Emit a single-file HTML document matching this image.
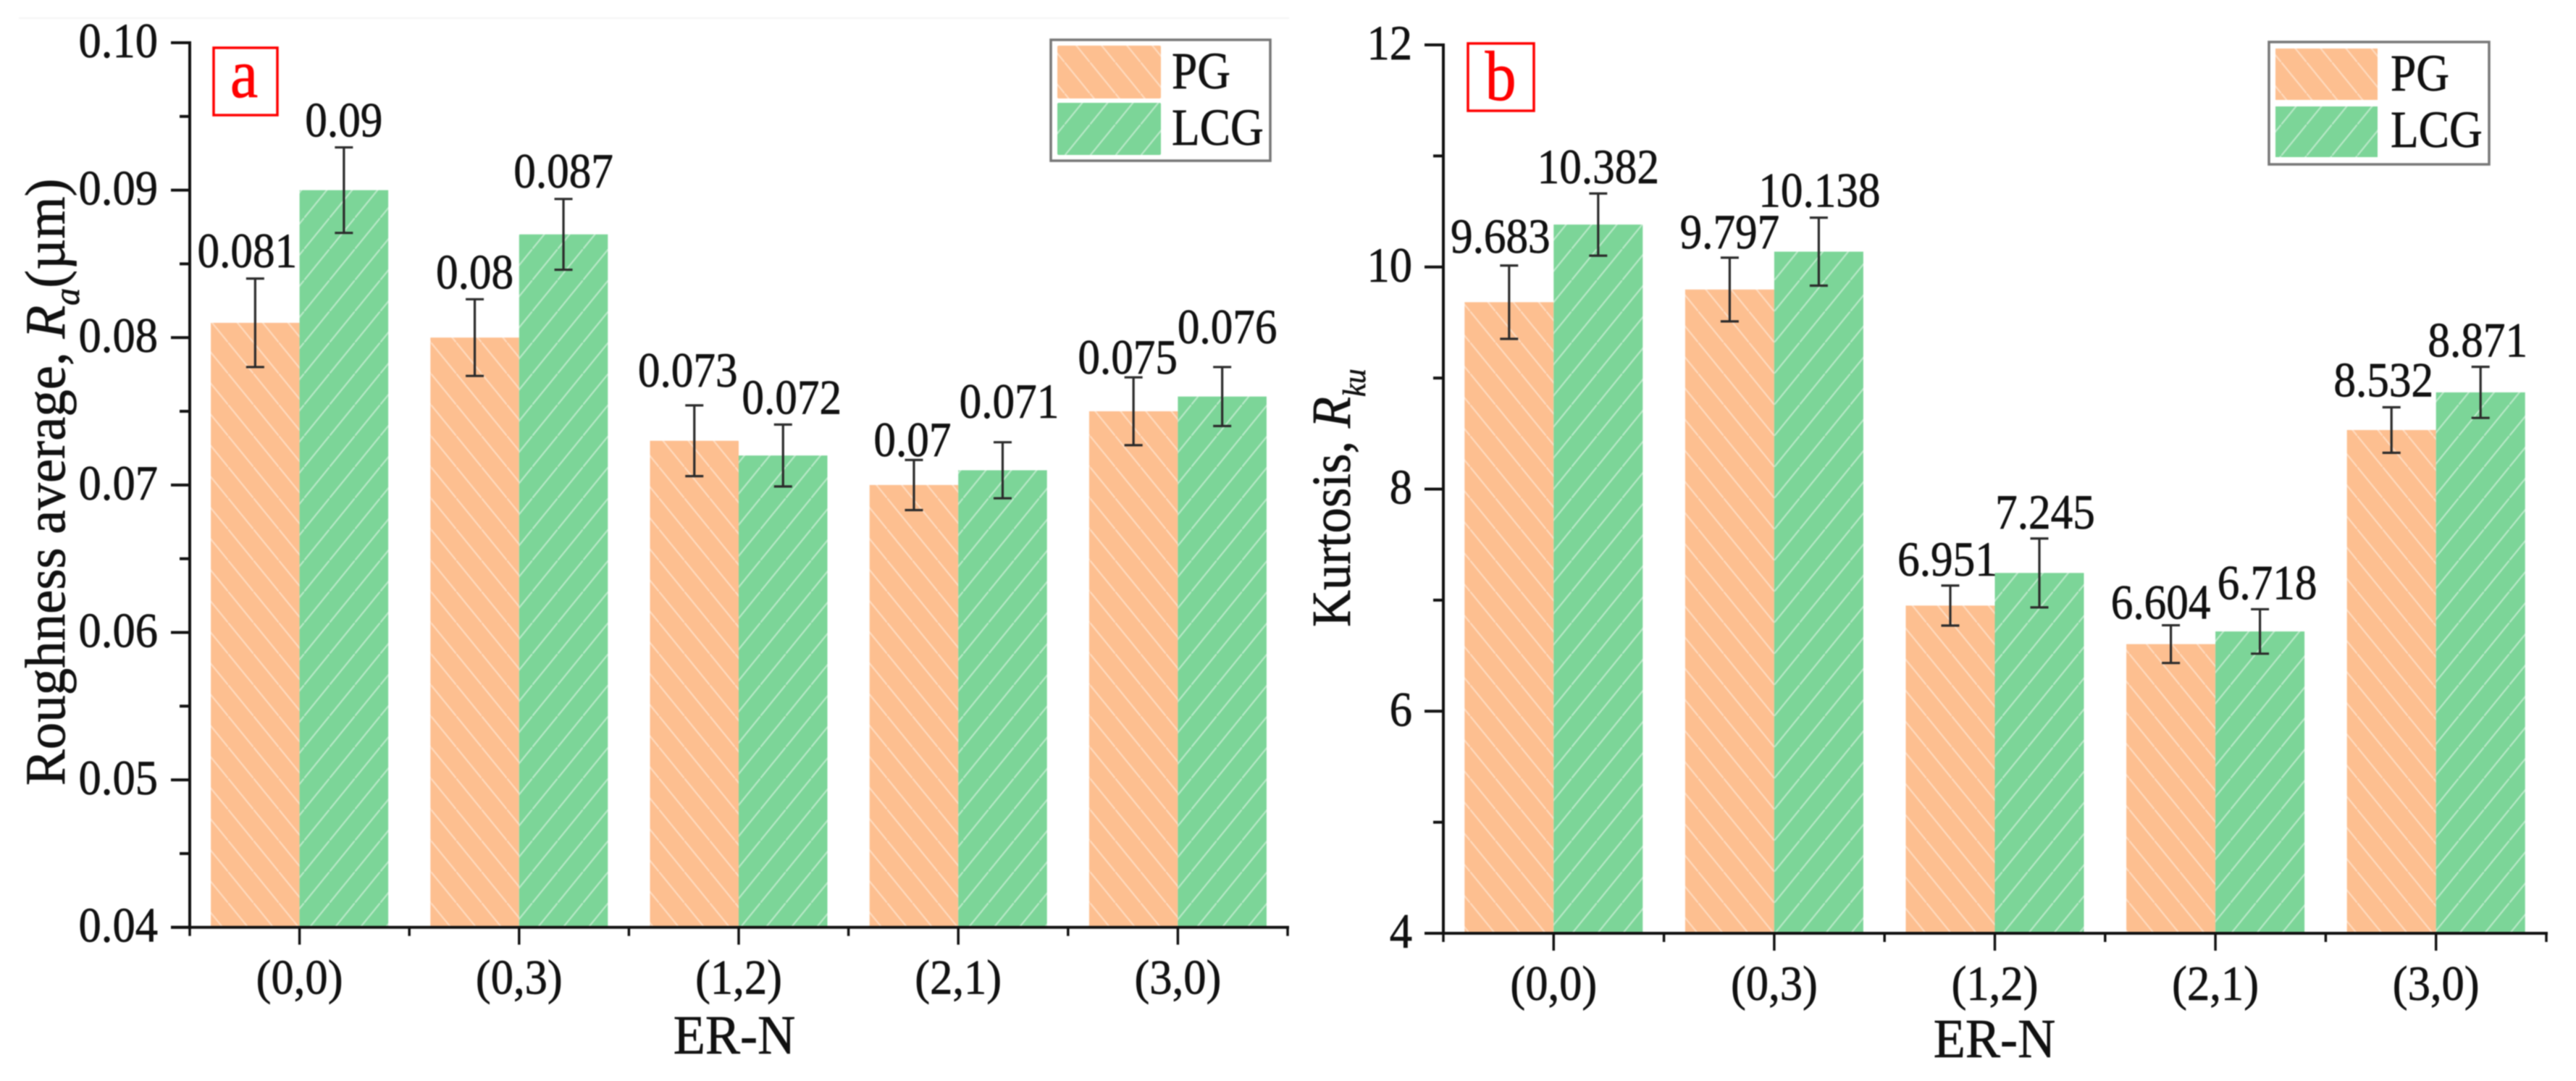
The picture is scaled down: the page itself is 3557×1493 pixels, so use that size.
<!DOCTYPE html>
<html lang="en">
<head>
<meta charset="utf-8">
<title>Roughness average and kurtosis by ER-N</title>
<style>
html,body{margin:0;padding:0;background:#fff;width:3557px;height:1493px;overflow:hidden}
svg{display:block;filter:blur(0.9px)}
text{font-family:"Liberation Serif","Times New Roman",serif;fill:#111;stroke:#111;stroke-width:.7px}
</style>
</head>
<body>
<svg id="figure" xmlns="http://www.w3.org/2000/svg" width="3557" height="1493" viewBox="0 0 3557 1493">
  <defs>
    <pattern id="hatch-pg" patternUnits="userSpaceOnUse" width="35" height="43">
      <rect width="35" height="43" fill="#fdbf90"/>
      <line x1="0" y1="0" x2="35" y2="43" stroke="#ffe6d2" stroke-opacity="0.7" stroke-width="2.2"/>
    </pattern>
    <pattern id="hatch-lcg" patternUnits="userSpaceOnUse" width="35" height="43">
      <rect width="35" height="43" fill="#7cd598"/>
      <line x1="0" y1="43" x2="35" y2="0" stroke="#d2f2dc" stroke-opacity="0.7" stroke-width="2.2"/>
    </pattern>
  </defs>

  <rect x="26" y="24" width="1754" height="2" fill="#f5f5f5"/>

  <g id="panel-a"></g>
  <g id="panel-b"></g>

  <!-- panel a static text -->
  <text transform="translate(89,1085) rotate(-90) scale(.96,1)" font-size="78">Roughness average, <tspan font-style="italic">R</tspan><tspan font-style="italic" font-size="50" dy="20">a</tspan><tspan dy="-20">(µm)</tspan></text>
  <text transform="translate(1014,1455) scale(.95,1)" font-size="76" text-anchor="middle">ER-N</text>
  <rect x="295" y="66" width="88" height="93" fill="#fff" stroke="#f00" stroke-width="3.5"/>
  <text transform="translate(337,134) scale(.9,1)" font-size="96" text-anchor="middle" style="fill:#f00;stroke:#f00">a</text>

  <g>
    <rect x="1451" y="55" width="303" height="167" fill="#fff" stroke="#777" stroke-width="3.5"/>
    <rect x="1460" y="63" width="143" height="73" rx="2" fill="url(#hatch-pg)"/>
    <rect x="1460" y="142" width="143" height="72" rx="2" fill="url(#hatch-lcg)"/>
    <text transform="translate(1618,122) scale(.88,1)" font-size="72">PG</text>
    <text transform="translate(1618,200) scale(.88,1)" font-size="72">LCG</text>
  </g>

  <!-- panel b static text -->
  <text transform="translate(1864,866) rotate(-90) scale(.93,1)" font-size="76">Kurtosis, <tspan font-style="italic">R</tspan><tspan font-style="italic" font-size="44" dy="21">ku</tspan></text>
  <text transform="translate(2754,1460) scale(.95,1)" font-size="76" text-anchor="middle">ER-N</text>
  <rect x="2027" y="60" width="91" height="93" fill="#fff" stroke="#f00" stroke-width="3.5"/>
  <text transform="translate(2072,138) scale(.88,1)" font-size="98" text-anchor="middle" style="fill:#f00;stroke:#f00">b</text>

  <g>
    <rect x="3133" y="58" width="304" height="169" fill="#fff" stroke="#777" stroke-width="3.5"/>
    <rect x="3142" y="67" width="141" height="71" fill="url(#hatch-pg)"/>
    <rect x="3142" y="147" width="141" height="70" fill="url(#hatch-lcg)"/>
    <text transform="translate(3301,125) scale(.88,1)" font-size="72">PG</text>
    <text transform="translate(3301,203) scale(.88,1)" font-size="72">LCG</text>
  </g>
</svg>

<script>
const categories = ['(0,0)', '(0,3)', '(1,2)', '(2,1)', '(3,0)'];

const raPG = [0.081, 0.08, 0.073, 0.07, 0.075];
const raLCG = [0.09, 0.087, 0.072, 0.071, 0.076];
const raPGErr = [0.003, 0.0026, 0.0024, 0.0017, 0.0023];
const raLCGErr = [0.0029, 0.0024, 0.0021, 0.0019, 0.002];
const raTicks = [0.04, 0.05, 0.06, 0.07, 0.08, 0.09, 0.10];
const raTickLabels = ['0.04', '0.05', '0.06', '0.07', '0.08', '0.09', '0.10'];

const rkuPG = [9.683, 9.797, 6.951, 6.604, 8.532];
const rkuLCG = [10.382, 10.138, 7.245, 6.718, 8.871];
const rkuPGErr = [0.33, 0.287, 0.18, 0.17, 0.205];
const rkuLCGErr = [0.28, 0.306, 0.31, 0.2, 0.23];
const rkuTicks = [4, 6, 8, 10, 12];
const rkuTickLabels = ['4', '6', '8', '10', '12'];

const SVGNS = 'http://www.w3.org/2000/svg';

function make(parent, tag, attrs) {
  const el = document.createElementNS(SVGNS, tag);
  for (const k in attrs) el.setAttribute(k, attrs[k]);
  parent.appendChild(el);
  return el;
}

function drawPanel(target, tag, frame, series, ticks, tickLabels, nudges) {
  const g = document.getElementById(target);
  const yMin = ticks[0];
  const yMax = ticks[ticks.length - 1];
  const yScale = v => frame.yBottom - (v - yMin) / (yMax - yMin) * (frame.yBottom - frame.yTop);
  const step = (frame.xEnd - frame.xStart) / categories.length;
  const xCenter = i => frame.xStart + step * (i + 0.5);

  // bars, error bars, value labels
  series.forEach((s, si) => {
    s.values.forEach((v, i) => {
      const c = xCenter(i);
      const x = si === 0 ? c - frame.barW : c;
      const top = yScale(v);

      const bar = make(g, 'rect', {x: x, y: top, width: frame.barW, height: frame.yBottom - top, fill: 'url(#' + s.pattern + ')'});
      
      
    });
  });

  series.forEach((s, si) => {
    s.values.forEach((v, i) => {
      const c = xCenter(i);
      const mid = si === 0 ? c - frame.barW / 2 : c + frame.barW / 2;
      const hi = yScale(v + s.err[i]);
      const lo = yScale(v - s.err[i]);

      const eb = make(g, 'path', {
        d: 'M' + mid + ' ' + hi + 'V' + lo + 'M' + (mid - 12.5) + ' ' + hi + 'H' + (mid + 12.5) + 'M' + (mid - 12.5) + ' ' + lo + 'H' + (mid + 12.5),
        fill: 'none', stroke: '#2a2a2a', 'stroke-width': 3.2
      });
      
      

      const dx = nudges[si][i][0];
      const gap = nudges[si][i][1];
      const lab = make(g, 'text', {
        transform: 'translate(' + (mid + dx) + ',' + (hi - gap) + ') scale(.9,1)',
        'font-size': 68, 'text-anchor': 'middle'
      });
      lab.textContent = String(v);
      
      
    });
  });

  // y axis
  const yAxis = make(g, 'line', {x1: frame.xStart, x2: frame.xStart, y1: frame.yTop - 2, y2: frame.yBottom + 2, stroke: '#111', 'stroke-width': 4});
  
  

  ticks.forEach((t, i) => {
    const y = yScale(t);
    const tk = make(g, 'line', {x1: frame.xStart - 26, x2: frame.xStart, y1: y, y2: y, stroke: '#111', 'stroke-width': 4});
    
    

    const lb = make(g, 'text', {
      transform: 'translate(' + frame.yLabelRight + ',' + (y + 20) + ') scale(.92,1)',
      'font-size': 68, 'text-anchor': 'end'
    });
    lb.textContent = tickLabels[i];
    
    

    if (i < ticks.length - 1) {
      const ym = yScale((t + ticks[i + 1]) / 2);
      const mn = make(g, 'line', {x1: frame.xStart - 14, x2: frame.xStart, y1: ym, y2: ym, stroke: '#111', 'stroke-width': 4});
      
      
    }
  });

  // x axis
  const xAxis = make(g, 'line', {x1: frame.xStart - 26, x2: frame.xEnd + 2, y1: frame.yBottom, y2: frame.yBottom, stroke: '#111', 'stroke-width': 4});
  
  

  for (let i = 0; i <= categories.length; i++) {
    const x = frame.xStart + step * i;
    const mn = make(g, 'line', {x1: x, x2: x, y1: frame.yBottom, y2: frame.yBottom + 12, stroke: '#111', 'stroke-width': 3.5});
    
    
  }

  categories.forEach((cat, i) => {
    const x = xCenter(i);
    const tk = make(g, 'line', {x1: x, x2: x, y1: frame.yBottom, y2: frame.yBottom + 24, stroke: '#111', 'stroke-width': 3.5});
    
    

    const lb = make(g, 'text', {
      transform: 'translate(' + x + ',' + (frame.yBottom + 92) + ') scale(.92,1)',
      'font-size': 68, 'text-anchor': 'middle'
    });
    lb.textContent = cat;
    
    
  });
}

drawPanel('panel-a', 'a',
  {xStart: 262, xEnd: 1778, yTop: 59, yBottom: 1280.7, barW: 122.5, yLabelRight: 218},
  [
    {name: 'pg', pattern: 'hatch-pg', values: raPG, err: raPGErr},
    {name: 'lcg', pattern: 'hatch-lcg', values: raLCG, err: raLCGErr}
  ],
  raTicks, raTickLabels,
  [
    [[-11, 16], [0, 15], [-9, 26], [-2, 5], [-8, 5]],
    [[0, 15], [0, 16], [12, 15], [9, 34], [7, 33]]
  ]);

drawPanel('panel-b', 'b',
  {xStart: 1993, xEnd: 3516, yTop: 62, yBottom: 1289, barW: 123, yLabelRight: 1950},
  [
    {name: 'pg', pattern: 'hatch-pg', values: rkuPG, err: rkuPGErr},
    {name: 'lcg', pattern: 'hatch-lcg', values: rkuLCG, err: rkuLCGErr}
  ],
  rkuTicks, rkuTickLabels,
  [
    [[-12, 18], [0, 13], [-4, 14], [-14, 9], [-11, 15]],
    [[0, 14], [1, 15], [8, 14], [10, 14], [-4, 14]]
  ]);
</script>
</body>
</html>
